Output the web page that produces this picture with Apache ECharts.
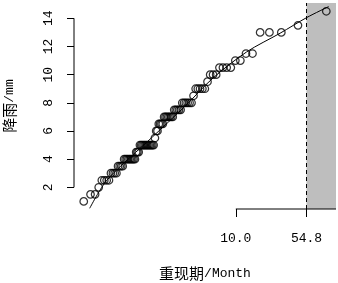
<!DOCTYPE html>
<html><head><meta charset="utf-8">
<script src="https://cdn.jsdelivr.net/npm/echarts@6/dist/echarts.min.js"></script>
<style>html,body{margin:0;padding:0;background:#fff}#c{width:338px;height:283px}</style>
</head><body><div id="c"></div>
<script>
// Observed rainfall (mm), sorted descending (rank m = 1..88)
const rainfall = [14.5, 13.5, 13, 13, 13, 11.5, 11.5, 11, 11,
  10.5, 10.5, 10.5, 10.5, 10, 10, 10, 9.5, 9, 9, 9, 9, 9, 8.5,
  8, 8, 8, 8, 8, 8, 7.5, 7.5, 7.5, 7.5, 7.5,
  7, 7, 7, 7, 7, 7, 7, 6.5, 6.5, 6.5, 6.5, 6, 6, 5.5,
  5, 5, 5, 5, 5, 5, 5, 5, 5, 5, 5, 5, 4.5, 4.5, 4.5,
  4, 4, 4, 4, 4, 4, 4, 4, 4, 3.5, 3.5, 3.5, 3.5,
  3, 3, 3, 3, 2.5, 2.5, 2.5, 2.5, 2, 1.5, 1.5, 1];
// Return period (months) of each observation
const returnPeriod = [89, 44.5, 29.67, 22.25, 17.8, 14.83, 12.71, 11.13, 9.89,
  8.9, 8.09, 7.42, 6.85, 6.36, 5.93, 5.56, 5.24, 4.94, 4.68, 4.45, 4.24, 4.05, 3.87,
  3.71, 3.56, 3.42, 3.296, 3.179, 3.069, 2.967, 2.871, 2.781, 2.697, 2.618,
  2.543, 2.472, 2.405, 2.342, 2.282, 2.225, 2.171, 2.119, 2.070, 2.023, 1.978,
  1.935, 1.894, 1.854, 1.816, 1.780, 1.745, 1.712, 1.679, 1.648, 1.618, 1.589,
  1.561, 1.534, 1.508, 1.483, 1.459, 1.435, 1.413, 1.391, 1.369, 1.348, 1.328,
  1.309, 1.290, 1.271, 1.254, 1.236, 1.219, 1.203, 1.187, 1.171, 1.156, 1.141,
  1.127, 1.1125, 1.099, 1.085, 1.072, 1.060, 1.0471, 1.0349, 1.0230, 1.0114];
// Fitted frequency curve
const fitPeriod = [1.0213, 1.0876, 1.789, 3.211, 5.925, 12.88, 28.78, 55.3, 94.2];
const fitRain = [0.51, 2.52, 5.59, 7.72, 9.76, 11.61, 12.94, 14.06, 14.83];
// Axis ticks
const xTickLabels = [10.0, 54.8];
const yTickLabels = [2, 4, 6, 8, 10, 12, 14];
const threshold = 54.8;

// Gumbel reduced variate axis transform
const gumbel = T => -Math.log(-Math.log(1 - 1 / T));
const fromGumbel = u => 1 / (1 - Math.exp(-Math.exp(-u)));

const xMin = -1.741, xMax = 4.722, yMin = 0.459, yMax = 15.087;
const mono = 'Liberation Mono';
const nameRich = {
  zh: {fontFamily: 'Noto Sans CJK SC', fontSize: 15, color: '#000'},
  en: {fontFamily: mono, fontSize: 13, color: '#000'}
};

const chart = echarts.init(document.getElementById('c'), null, {renderer: 'canvas'});
chart.setOption({
  animation: false,
  backgroundColor: '#fff',
  grid: {left: 74, right: 2, top: 3, bottom: 74, outerBoundsMode: 'none', containLabel: false},
  xAxis: {
    type: 'value', min: xMin, max: xMax,
    splitLine: {show: false},
    axisLine: {show: false, onZero: false},
    axisTick: {show: true, length: 8, customValues: xTickLabels.map(gumbel), lineStyle: {color: '#000', width: 1}},
    axisLabel: {customValues: xTickLabels.map(gumbel), margin: 23, fontFamily: mono, fontSize: 13, color: '#000',
      formatter: v => fromGumbel(v).toFixed(1)},
    name: '{zh|重现期}{en|/Month}', nameLocation: 'middle', nameGap: 57,
    nameTextStyle: {rich: nameRich}
  },
  yAxis: {
    type: 'value', min: yMin, max: yMax,
    splitLine: {show: false},
    axisLine: {show: false, onZero: false},
    axisTick: {show: true, length: 7, customValues: yTickLabels, lineStyle: {color: '#000', width: 1}},
    axisLabel: {customValues: yTickLabels, rotate: 90, margin: 19, fontFamily: mono, fontSize: 13, color: '#000'},
    name: '{zh|降雨}{en|/mm}', nameLocation: 'middle', nameGap: 57, nameRotate: 90,
    nameTextStyle: {rich: nameRich}
  },
  series: [
    {
      type: 'line', silent: true, symbol: 'none', clip: false, z: 1,
      data: [],
      markArea: {silent: true, itemStyle: {color: '#bebebe'},
        data: [[{xAxis: gumbel(threshold)}, {xAxis: xMax}]]},
      markLine: {silent: true, symbol: 'none', label: {show: false},
        lineStyle: {color: '#000', width: 1, type: [4, 3]},
        data: [{xAxis: gumbel(threshold)}]}
    },
    {
      type: 'line', silent: true, symbol: 'none', clip: false, z: 3,
      lineStyle: {color: '#000', width: 1},
      data: [[gumbel(xTickLabels[0]), yMin], [xMax, yMin]]
    },
    {
      type: 'line', silent: true, symbol: 'none', clip: false, z: 3,
      lineStyle: {color: '#000', width: 1},
      data: [[xMin, yTickLabels[0]], [xMin, yTickLabels[yTickLabels.length - 1]]]
    },
    {
      type: 'line', silent: true, symbol: 'none', clip: true, z: 4, smooth: 0.3,
      lineStyle: {color: '#000', width: 1},
      data: fitPeriod.map((t, i) => [gumbel(t), fitRain[i]])
    },
    {
      type: 'scatter', silent: true, z: 5, symbol: 'circle', symbolSize: 7.5,
      itemStyle: {color: 'rgba(0,0,0,0)', borderColor: '#000', borderWidth: 1.25},
      data: returnPeriod.map((t, i) => [gumbel(t), rainfall[i]])
    }
  ]
});
</script></body></html>
